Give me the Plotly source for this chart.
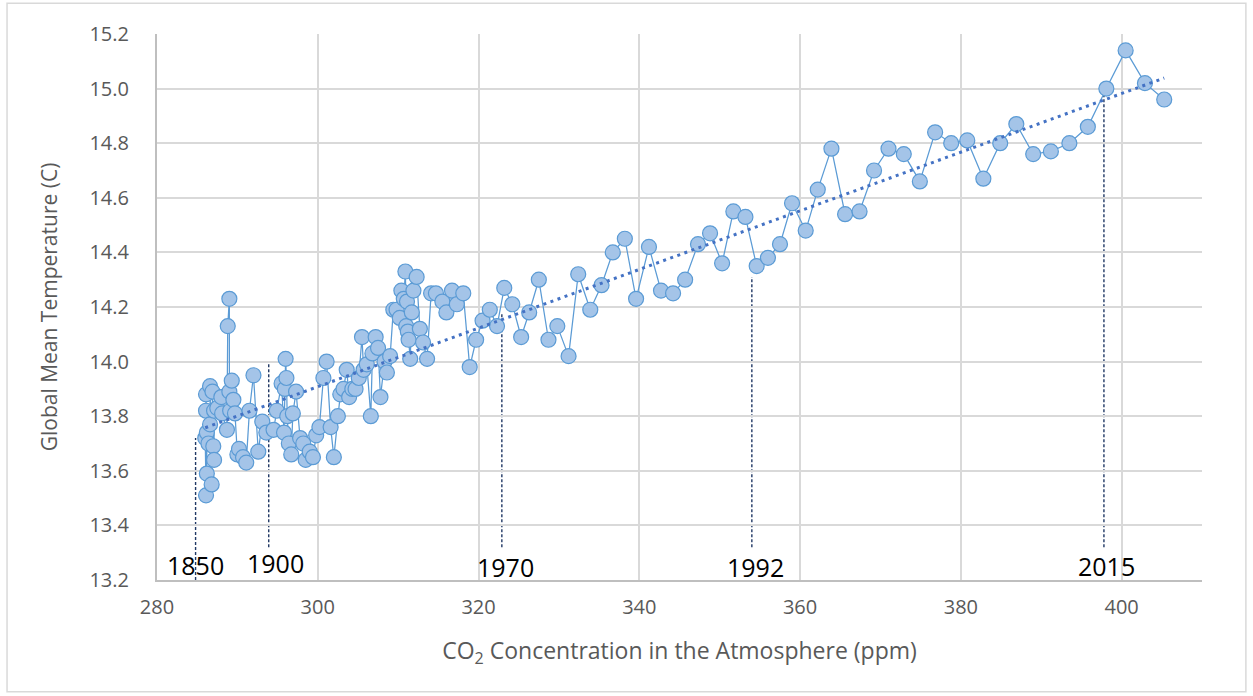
import numpy as np
import plotly.graph_objects as go

# ---------------- data ----------------
co2_ppm = [
    286.0, 286.1, 286.1, 286.1, 286.2, 286.2, 286.4, 286.6, 286.6, 286.8,
    286.9, 287.0, 287.1, 287.1, 287.5, 288.0, 288.1, 288.7, 288.8, 289.0,
    289.0, 289.1, 289.3, 289.5, 289.7, 290.0, 290.2, 290.7, 291.1, 291.5,
    292.0, 292.6, 293.1, 293.6, 294.5, 294.9, 295.5, 295.8, 295.9, 296.0,
    296.1, 296.2, 296.4, 296.7, 296.9, 297.3, 297.8, 298.2, 298.5, 299.0,
    299.4, 299.8, 300.2, 300.7, 301.1, 301.6, 302.0, 302.5, 302.8, 303.2,
    303.6, 303.9, 304.3, 304.7, 305.1, 305.5, 305.7, 306.1, 306.6, 306.8,
    307.2, 307.5, 307.8, 308.3, 308.6, 309.0, 309.4, 309.8, 310.2, 310.4,
    310.7, 310.9, 311.0, 311.1, 311.2, 311.3, 311.5, 311.7, 311.9, 312.3,
    312.7, 313.1, 313.6, 314.1, 314.7, 315.5, 316.0, 316.7, 317.3, 318.1,
    318.9, 319.7, 320.5, 321.4, 322.3, 323.2, 324.2, 325.3, 326.3, 327.5,
    328.7, 329.8, 331.2, 332.4, 333.9, 335.3, 336.7, 338.2, 339.6, 341.2,
    342.7, 344.2, 345.7, 347.3, 348.8, 350.3, 351.7, 353.2, 354.6, 356.0,
    357.5, 359.0, 360.7, 362.2, 363.9, 365.6, 367.4, 369.2, 371.0, 372.9,
    374.9, 376.8, 378.8, 380.8, 382.8, 384.9, 386.9, 389.0, 391.2, 393.5,
    395.8, 398.1, 400.5, 402.9, 405.3,
]
temp_c = [
    13.72, 13.51, 13.82, 13.88, 13.59, 13.74, 13.70, 13.77, 13.91, 13.55,
    13.89, 13.69, 13.64, 13.82, 13.83, 13.87, 13.81, 13.75, 14.13, 14.23,
    13.89, 13.82, 13.93, 13.86, 13.81, 13.66, 13.68, 13.65, 13.63, 13.82,
    13.95, 13.67, 13.78, 13.74, 13.75, 13.82, 13.92, 13.74, 13.90, 14.01,
    13.94, 13.80, 13.70, 13.66, 13.81, 13.89, 13.72, 13.70, 13.64, 13.67,
    13.65, 13.73, 13.76, 13.94, 14.00, 13.76, 13.65, 13.80, 13.88, 13.90,
    13.97, 13.87, 13.90, 13.90, 13.94, 14.09, 13.97, 13.99, 13.80, 14.03,
    14.09, 14.05, 13.87, 14.00, 13.96, 14.02, 14.19, 14.19, 14.16, 14.26,
    14.23, 14.33, 14.13, 14.22, 14.11, 14.08, 14.01, 14.18, 14.26, 14.31,
    14.12, 14.07, 14.01, 14.25, 14.25, 14.22, 14.18, 14.26, 14.21, 14.25,
    13.98, 14.08, 14.15, 14.19, 14.13, 14.27, 14.21, 14.09, 14.18, 14.30,
    14.08, 14.13, 14.02, 14.32, 14.19, 14.28, 14.40, 14.45, 14.23, 14.42,
    14.26, 14.25, 14.30, 14.43, 14.47, 14.36, 14.55, 14.53, 14.35, 14.38,
    14.43, 14.58, 14.48, 14.63, 14.78, 14.54, 14.55, 14.70, 14.78, 14.76,
    14.66, 14.84, 14.80, 14.81, 14.67, 14.80, 14.87, 14.76, 14.77, 14.80,
    14.86, 15.00, 15.14, 15.02, 14.96,
]

# year markers: label, CO2 position, temperature at top / bottom of the dashed line
year_labels = ["1850", "1900", "1970", "1992", "2015"]
year_ppm = [284.8, 293.9, 322.9, 354.0, 397.8]
year_temp_top = [13.72, 13.99, 14.18, 14.31, 14.98]
year_temp_bottom = [13.2, 13.32, 13.32, 13.32, 13.32]
year_label_ppm = [284.8, 294.8, 323.3, 354.4, 398.1]
year_label_temp = [13.255, 13.262, 13.248, 13.248, 13.252]

x_ticks = [280, 300, 320, 340, 360, 380, 400]
y_ticks = [13.2, 13.4, 13.6, 13.8, 14.0, 14.2, 14.4, 14.6, 14.8, 15.0, 15.2]

# ---------------- figure ----------------
FONT = "Open Sans, Lato, sans-serif"
x = np.array(co2_ppm)
y = np.array(temp_c)
slope, intercept = np.polyfit(x, y, 1)
trend_x = np.array([x.min(), x.max()])
trend_y = slope * trend_x + intercept

fig = go.Figure()
fig.add_trace(go.Scatter(
    x=co2_ppm, y=temp_c, mode="lines+markers",
    line=dict(color="#5B9BD5", width=1.25),
    marker=dict(size=15, color="#A4C4E8",
                line=dict(color="#5B9BD5", width=1.2)),
    hoverinfo="x+y", showlegend=False,
))
fig.add_trace(go.Scatter(
    x=trend_x, y=trend_y, mode="lines",
    line=dict(color="#4472C4", width=3, dash="3px,4.5px"),
    hoverinfo="skip", showlegend=False,
))

shapes = []
for xp, yt, yb in zip(year_ppm, year_temp_top, year_temp_bottom):
    shapes.append(dict(type="line", xref="x", yref="y", x0=xp, x1=xp,
                       y0=yb, y1=yt, layer="below",
                       line=dict(color="#203864", width=1.4, dash="3px,2px")))
# outer chart border
shapes.append(dict(type="rect", xref="paper", yref="paper",
                   x0=-0.1435, x1=1.042, y0=-0.2045, y1=1.0565,
                   line=dict(color="#D9D9D9", width=1.5)))

annotations = []
for lab, xp, yp in zip(year_labels, year_label_ppm, year_label_temp):
    annotations.append(dict(x=xp, y=yp, xref="x", yref="y", text=lab,
                            showarrow=False,
                            font=dict(family=FONT, size=25, color="#000000")))

fig.update_layout(
    width=1253, height=696,
    margin=dict(l=157, r=51, t=34, b=116),
    paper_bgcolor="white", plot_bgcolor="white",
    font=dict(family=FONT, color="#595959"),
    shapes=shapes, annotations=annotations,
    xaxis=dict(
        range=[280, 410], tickvals=x_ticks, ticktext=[str(v) for v in x_ticks],
        showgrid=True, gridcolor="#D9D9D9", gridwidth=2,
        showline=True, linecolor="#BFBFBF", linewidth=2,
        zeroline=False, ticks="", ticklabelstandoff=8,
        tickfont=dict(family=FONT, size=20, color="#595959"),
        title=dict(text="CO<sub>2</sub> Concentration in the Atmosphere (ppm)",
                   font=dict(family=FONT, size=23, color="#595959"),
                   standoff=24),
    ),
    yaxis=dict(
        range=[13.2, 15.2], tickvals=y_ticks,
        ticktext=[f"{v:.1f}" for v in y_ticks],
        showgrid=True, gridcolor="#D9D9D9", gridwidth=2,
        showline=True, linecolor="#BFBFBF", linewidth=2,
        zeroline=False, ticks="", ticklabelstandoff=22,
        tickfont=dict(family=FONT, size=20, color="#595959"),
        title=dict(text="Global Mean Temperature (C)",
                   font=dict(family=FONT, size=21, color="#595959"),
                   standoff=26),
    ),
)

fig.write_html("out.html",
               config={"displayModeBar": False},
               post_script="document.body.style.margin='0';")
